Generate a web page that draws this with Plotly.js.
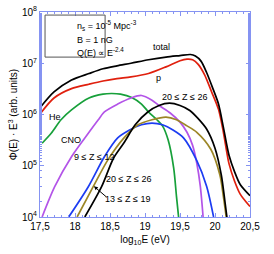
<!DOCTYPE html>
<html><head><meta charset="utf-8">
<script src="https://cdn.plot.ly/plotly-3.0.1.min.js"></script>
<style>html,body{margin:0;padding:0;background:#fff}</style>
</head><body><div id="chart" style="width:274px;height:254px"></div>
<script>
// log10(E/eV) and Phi(E)*E^3 (arb. units)
const totalX = [17.5,17.7,17.95,18.2,18.4,18.6,18.8,19.05,19.3,19.5,19.65,19.72,19.8,19.88,19.97,20.05,20.12,20.2,20.28,20.36,20.5];
const totalY = [1.35e6,2.75e6,4.7e6,6.3e6,7.8e6,8.9e6,1.0e7,1.17e7,1.32e7,1.41e7,1.48e7,1.38e7,1.1e7,6.6e6,3.2e6,1.6e6,5.6e5,1.6e5,7.6e4,4.3e4,2.6e4];
const pX = [17.5,17.7,17.95,18.2,18.4,18.6,18.8,19.05,19.3,19.5,19.6,19.68,19.76,19.85,19.95,20.05,20.12,20.2,20.28,20.36,20.5];
const pY = [1.02e6,2.1e6,3.2e6,3.9e6,4.5e6,5.0e6,5.4e6,6.3e6,8.5e6,1.12e7,1.2e7,1.17e7,9.5e6,6.0e6,2.8e6,1.26e6,4.5e5,1.1e5,5e4,2.8e4,1.6e4];
const heX = [17.53,17.66,17.8,17.95,18.2,18.4,18.52,18.65,18.81,18.95,19.05,19.17,19.25,19.33,19.41,19.45,19.48];
const heY = [2.75e5,4.3e5,7.9e5,1.23e6,2.1e6,2.5e6,2.57e6,2.5e6,2.15e6,1.6e6,1.12e6,7.9e5,6.0e5,3.2e5,9e4,2.5e4,1e4];
const cnoX = [17.53,17.71,17.95,18.19,18.33,18.42,18.61,18.8,18.95,19.1,19.2,19.36,19.5,19.6,19.68,19.74,19.79,19.83];
const cnoY = [1e4,3.9e4,1.5e5,4.3e5,7.8e5,1.12e6,1.6e6,2.1e6,2.35e6,1.9e6,1.5e6,1.07e6,7.1e5,4.5e5,2.5e5,1.12e5,4e4,1e4];
const z912X = [17.91,18.19,18.42,18.61,18.78,18.95,19.1,19.25,19.4,19.55,19.74,19.88,19.98];
const z912Y = [1e4,3.9e4,1.5e5,3.5e5,5e5,6.3e5,6.8e5,6.3e5,5e5,3.5e5,1.26e5,4e4,1e4];
const z1319X = [18.03,18.26,18.47,18.7,18.9,19.1,19.3,19.45,19.6,19.74,19.94,20.07,20.12,20.16];
const z1319Y = [1e4,3.9e4,1.3e5,3.5e5,6.3e5,7.9e5,8.9e5,7.9e5,6e5,4.5e5,2.1e5,6.6e4,2.5e4,1e4];
const z2026X = [18.14,18.38,18.55,18.7,18.86,19.04,19.2,19.35,19.5,19.64,19.76,19.88,20.0,20.09,20.14,20.17];
const z2026Y = [1e4,3.9e4,1.4e5,2.8e5,6.3e5,1.12e6,1.5e6,1.66e6,1.5e6,1.2e6,8.3e5,5.2e5,2.2e5,6.6e4,2.1e4,1e4];
const xTicks = [17.5,18,18.5,19,19.5,20,20.5];
const xTickText = ['17,5','18','18,5','19','19,5','20','20,5'];
const yTicks = [1e4,1e5,1e6,1e7,1e8];
const yTickText = ['10<sup>4</sup>','10<sup>5</sup>','10<sup>6</sup>','10<sup>7</sup>','10<sup>8</sup>'];

function tr(x,y,color){return {x:x,y:y,type:'scatter',mode:'lines',line:{color:color,width:1.7,shape:'spline',smoothing:0.8},hoverinfo:'skip',showlegend:false};}
const data = [
  tr(pX,pY,'#e0200e'),
  tr(heX,heY,'#17a03a'),
  tr(cnoX,cnoY,'#b354e8'),
  tr(z912X,z912Y,'#1c3cf2'),
  tr(z1319X,z1319Y,'#9c8626'),
  tr(z2026X,z2026Y,'#000000'),
  tr(totalX,totalY,'#000000')
];
const axCol = '#8593f2';
const fnt = {family:'Liberation Sans, Arial, sans-serif', size:9, color:'#000'};
function lab(t,x,ly,xa){return {text:t,x:x,y:ly,xref:'x',yref:'y',showarrow:false,font:fnt,xanchor:xa||'center',yanchor:'middle'};}
const layout = {
  width:274,height:254,
  margin:{l:40,r:24,t:12,b:37},
  paper_bgcolor:'#fff',plot_bgcolor:'#fff',
  font:{family:'Liberation Sans, Arial, sans-serif',size:10,color:'#000'},
  xaxis:{range:[17.5,20.5],tickvals:xTicks,ticktext:xTickText,ticks:'inside',ticklen:4,tickcolor:axCol,
    showline:true,linecolor:axCol,linewidth:1,mirror:'ticks',showgrid:false,zeroline:false,
    minor:{dtick:0.1,ticks:'inside',ticklen:2,tickcolor:axCol,showgrid:false},
    tickfont:{size:10},title:{text:'log<sub>10</sub>E (eV)',font:{size:10},standoff:4}},
  yaxis:{type:'log',range:[4,8],tickvals:yTicks,ticktext:yTickText,ticks:'inside',ticklen:4,tickcolor:axCol,
    showline:true,linecolor:axCol,linewidth:1,mirror:'ticks',showgrid:false,zeroline:false,
    minor:{ticks:'inside',ticklen:2,tickcolor:axCol,showgrid:false},
    tickfont:{size:10},title:{text:'Φ(E) · E<sup>3</sup> (arb. units)',font:{size:10},standoff:2}},
  shapes:[{type:'rect',xref:'paper',yref:'paper',x0:0.024,x1:0.31,y0:0.78,y1:0.985,line:{color:'#555',width:1}}],
  annotations:[
    {text:'n<sub>s</sub> = 10<sup>-5</sup> Mpc<sup>-3</sup>',xref:'paper',yref:'paper',x:0.167,y:0.935,showarrow:false,font:fnt,yanchor:'middle'},
    {text:'B = 1 nG',xref:'paper',yref:'paper',x:0.167,y:0.865,showarrow:false,font:fnt,yanchor:'middle'},
    {text:'Q(E) ∝ E<sup>-2.4</sup>',xref:'paper',yref:'paper',x:0.167,y:0.803,showarrow:false,font:fnt,yanchor:'middle'},
    lab('total',19.24,7.32),
    lab('p',19.19,6.71),
    lab('He',17.71,5.95),
    lab('CNO',17.94,5.50),
    lab('9 ≤ Z ≤ 12',18.27,5.17),
    lab('20 ≤ Z ≤ 26',19.57,6.34),
    lab('20 ≤ Z ≤ 26',18.76,4.74),
    lab('13 ≤ Z ≤ 19',18.75,4.35),
    {text:'',x:18.27,y:4.6,xref:'x',yref:'y',showarrow:true,arrowhead:2,arrowsize:0.8,arrowwidth:1,arrowcolor:'#000',ax:14,ay:12}
  ]
};
Plotly.newPlot('chart',data,layout,{staticPlot:true,displayModeBar:false});
</script></body></html>
